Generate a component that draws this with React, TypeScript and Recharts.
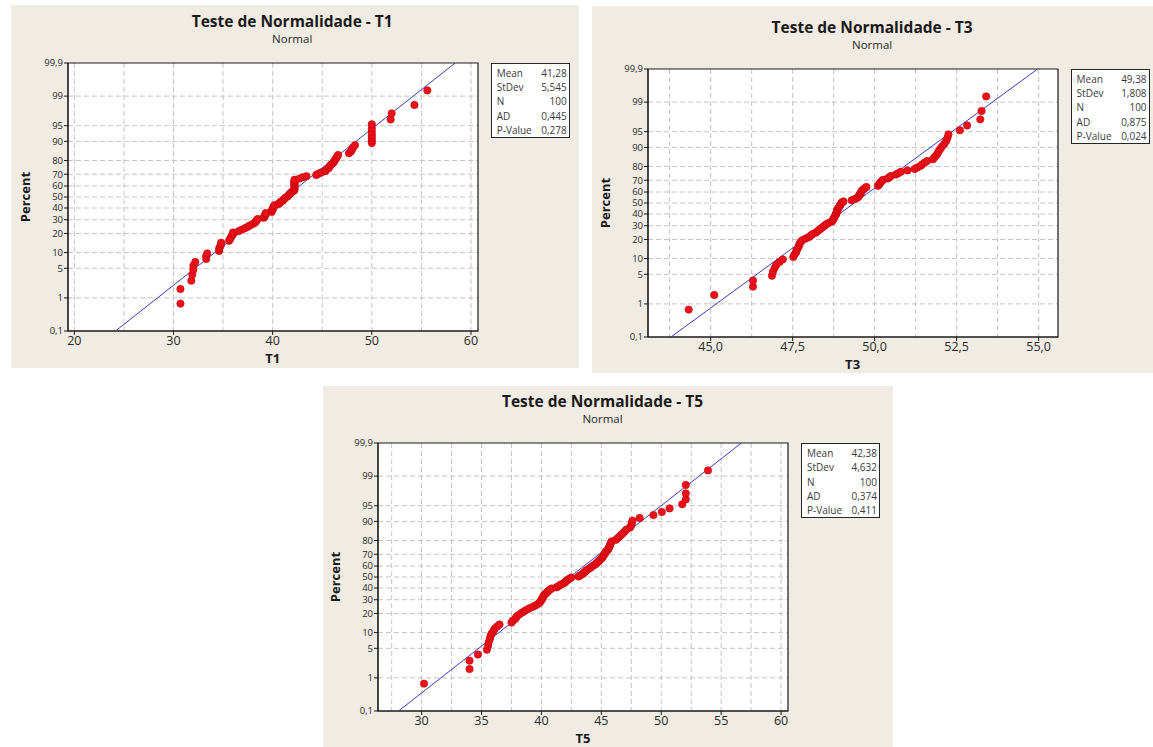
import React from 'react';
import { ScatterChart, Scatter, XAxis, YAxis, CartesianGrid, ReferenceArea } from 'recharts';

// probability axis (shared by the three plots)
const percentTicks = [0.1, 1, 5, 10, 20, 30, 40, 50, 60, 70, 80, 90, 95, 99, 99.9];
const percentLabels = ['0,1', '1', '5', '10', '20', '30', '40', '50', '60', '70', '80', '90', '95', '99', '99,9'];
const percentGrid = [1, 5, 10, 20, 30, 40, 50, 60, 70, 80, 90, 95, 99];

const statLabels = ['Mean', 'StDev', 'N', 'AD', 'P-Value'];

// T1
const t1Values = [
  30.7, 30.7, 31.8, 31.9, 32.0, 32.0, 32.2, 33.3, 33.3, 33.4,
  34.6, 34.6, 34.7, 34.8, 34.8, 35.6, 35.7, 35.8, 35.9, 36.0,
  36.0, 36.6, 36.9, 37.2, 37.5, 37.7, 38.0, 38.2, 38.3, 38.4,
  38.5, 39.1, 39.2, 39.2, 39.3, 39.3, 39.9, 39.9, 40.0, 40.0,
  40.1, 40.1, 40.2, 40.6, 40.7, 40.8, 41.0, 41.1, 41.2, 41.3,
  41.5, 41.6, 41.7, 41.8, 41.9, 42.1, 42.2, 42.2, 42.2, 42.2,
  42.2, 42.2, 42.2, 42.2, 42.2, 42.2, 42.7, 43.0, 43.4, 44.4,
  44.6, 44.9, 45.3, 45.4, 45.6, 45.7, 45.8, 45.9, 46.1, 46.2,
  46.3, 46.4, 46.5, 46.6, 47.7, 47.9, 48.0, 48.1, 48.3, 50.0,
  50.0, 50.0, 50.0, 50.0, 50.0, 50.0, 51.9, 52.0, 54.3, 55.6,
];
const t1Fit = [{ x: 24.15, p: 0.1 }, { x: 58.41, p: 99.9 }];
const t1Stats = ['41,28', '5,545', '100', '0,445', '0,278'];
const t1XTicks = [20, 30, 40, 50, 60];
const t1XLabels = ['20', '30', '40', '50', '60'];
const t1XGrid = [20, 25, 30, 35, 40, 45, 50, 55, 60];
const t1XDomain = [19.36, 60.71];

// T3
const t3Values = [
  44.33, 45.11, 46.29, 46.29, 46.87, 46.9, 46.95, 47.0, 47.1, 47.2,
  47.52, 47.55, 47.6, 47.62, 47.65, 47.68, 47.7, 47.72, 47.75, 47.8,
  47.9, 48.0, 48.05, 48.1, 48.2, 48.25, 48.3, 48.35, 48.4, 48.45,
  48.5, 48.55, 48.62, 48.7, 48.72, 48.75, 48.76, 48.78, 48.8, 48.82,
  48.83, 48.84, 48.85, 48.86, 48.88, 48.9, 48.92, 48.94, 48.96, 48.98,
  49.0, 49.05, 49.3, 49.38, 49.45, 49.5, 49.52, 49.54, 49.56, 49.58,
  49.6, 49.62, 49.66, 49.7, 49.75, 50.1, 50.14, 50.16, 50.18, 50.22,
  50.26, 50.4, 50.45, 50.5, 50.65, 50.72, 50.8, 51.0, 51.22, 51.3,
  51.4, 51.45, 51.52, 51.6, 51.78, 51.82, 51.88, 51.92, 51.95, 52.0,
  52.05, 52.12, 52.18, 52.22, 52.25, 52.6, 52.82, 53.22, 53.26, 53.4,
];
const t3Fit = [{ x: 43.79, p: 0.1 }, { x: 54.97, p: 99.9 }];
const t3Stats = ['49,38', '1,808', '100', '0,875', '0,024'];
const t3XTicks = [45, 47.5, 50, 52.5, 55];
const t3XLabels = ['45,0', '47,5', '50,0', '52,5', '55,0'];
const t3XGrid = [43.75, 45, 46.25, 47.5, 48.75, 50, 51.25, 52.5, 53.75, 55];
const t3XDomain = [43.09, 55.59];

// T5
const t5Values = [
  30.2, 34.0, 34.0, 34.7, 35.45, 35.55, 35.6, 35.7, 35.75, 35.85,
  36.0, 36.1, 36.3, 36.5, 37.5, 37.6, 37.8, 37.9, 38.0, 38.2,
  38.4, 38.6, 38.8, 39.0, 39.3, 39.5, 39.7, 39.85, 39.9, 40.0,
  40.05, 40.1, 40.15, 40.2, 40.3, 40.4, 40.5, 40.6, 40.7, 40.85,
  41.25, 41.4, 41.55, 41.7, 41.9, 42.0, 42.1, 42.2, 42.35, 42.5,
  43.1, 43.25, 43.4, 43.5, 43.6, 43.7, 43.8, 43.95, 44.1, 44.2,
  44.35, 44.5, 44.6, 44.7, 44.8, 44.9, 45.0, 45.1, 45.15, 45.2,
  45.3, 45.35, 45.4, 45.55, 45.6, 45.65, 45.7, 45.75, 45.8, 45.85,
  46.2, 46.35, 46.5, 46.65, 46.8, 46.95, 47.1, 47.4, 47.5, 47.55,
  47.6, 48.2, 49.35, 50.05, 50.7, 51.75, 52.05, 52.05, 52.05, 53.9,
];
const t5Fit = [{ x: 28.07, p: 0.1 }, { x: 56.69, p: 99.9 }];
const t5Stats = ['42,38', '4,632', '100', '0,374', '0,411'];
const t5XTicks = [30, 35, 40, 45, 50, 55, 60];
const t5XLabels = ['30', '35', '40', '45', '50', '55', '60'];
const t5XGrid = [27.5, 30, 32.5, 35, 37.5, 40, 42.5, 45, 47.5, 50, 52.5, 55, 57.5, 60];
const t5XDomain = [26.36, 60.58];

// inverse normal cdf (Acklam), used for the probability scale
function probit(p: number): number {
  const a = [-39.69683028665376, 220.9460984245205, -275.9285104469687, 138.357751867269, -30.66479806614716, 2.506628277459239];
  const b = [-54.47609879822406, 161.5858368580409, -155.6989798598866, 66.80131188771075, -13.28068155288572];
  const c = [-0.007784894002430293, -0.3223964580411365, -2.400758277161838, -2.549732539343734, 4.374664141464968, 2.938163982698783];
  const d = [0.007784695709041462, 0.3224671290700398, 2.445134137142996, 3.754408661907416];
  const lo = 0.02425;
  if (p < lo) {
    const q = Math.sqrt(-2 * Math.log(p));
    return (((((c[0] * q + c[1]) * q + c[2]) * q + c[3]) * q + c[4]) * q + c[5]) / ((((d[0] * q + d[1]) * q + d[2]) * q + d[3]) * q + 1);
  }
  if (p > 1 - lo) {
    const q = Math.sqrt(-2 * Math.log(1 - p));
    return -(((((c[0] * q + c[1]) * q + c[2]) * q + c[3]) * q + c[4]) * q + c[5]) / ((((d[0] * q + d[1]) * q + d[2]) * q + d[3]) * q + 1);
  }
  const q = p - 0.5;
  const r = q * q;
  return ((((((a[0] * r + a[1]) * r + a[2]) * r + a[3]) * r + a[4]) * r + a[5]) * q) / (((((b[0] * r + b[1]) * r + b[2]) * r + b[3]) * r + b[4]) * r + 1);
}

const zTicks = percentTicks.map((p) => probit(p / 100));
const zGrid = percentGrid.map((p) => probit(p / 100));
const zDomain = [zTicks[0], zTicks[zTicks.length - 1]];

// Minitab plots each sorted value at its median rank
const toPoints = (values: number[]) =>
  values.map((x, i) => ({ x, z: probit((i + 1 - 0.3) / (values.length + 0.4)) }));

const FONT = '"Open Sans", "DejaVu Sans", sans-serif';
const PANEL_BG = '#f0ebe3';
const PLOT_W = 410;
const PLOT_H = 268;
const Y_AXIS_W = 60;
const X_AXIS_H = 44;
const TOP = 8;
const RIGHT = 8;

type PanelDef = {
  name: string;
  values: number[];
  fit: { x: number; p: number }[];
  stats: string[];
  xTicks: number[];
  xLabels: string[];
  xGrid: number[];
  xDomain: number[];
  box: { left: number; top: number; width: number; height: number };
  plot: { left: number; top: number };
};

const panels: PanelDef[] = [
  {
    name: 'T1', values: t1Values, fit: t1Fit, stats: t1Stats, xTicks: t1XTicks, xLabels: t1XLabels,
    xGrid: t1XGrid, xDomain: t1XDomain,
    box: { left: 11, top: 5, width: 568, height: 363 }, plot: { left: 67.7, top: 63 },
  },
  {
    name: 'T3', values: t3Values, fit: t3Fit, stats: t3Stats, xTicks: t3XTicks, xLabels: t3XLabels,
    xGrid: t3XGrid, xDomain: t3XDomain,
    box: { left: 592, top: 6, width: 570, height: 367 }, plot: { left: 647.6, top: 69 },
  },
  {
    name: 'T5', values: t5Values, fit: t5Fit, stats: t5Stats, xTicks: t5XTicks, xLabels: t5XLabels,
    xGrid: t5XGrid, xDomain: t5XDomain,
    box: { left: 323, top: 386, width: 570, height: 361 }, plot: { left: 378, top: 443.3 },
  },
];

const Dot = (props: { cx?: number; cy?: number }) => (
  <circle cx={props.cx} cy={props.cy} r={3.7} fill="#e8121a" stroke="#c8000a" strokeWidth={0.6} />
);

function ProbabilityPanel({ def }: { def: PanelDef }) {
  const { box, plot } = def;
  const px = plot.left - box.left;
  const py = plot.top - box.top;
  const points = toPoints(def.values);
  const fitLine = def.fit.map((f) => ({ x: f.x, z: probit(f.p / 100) }));

  const xLabel = (v: number) => {
    const i = def.xTicks.findIndex((t) => Math.abs(t - v) < 1e-9);
    return i >= 0 ? def.xLabels[i] : '';
  };
  const yLabel = (v: number) => {
    const i = zTicks.findIndex((t) => Math.abs(t - v) < 1e-9);
    return i >= 0 ? percentLabels[i] : '';
  };

  return (
    <div
      style={{
        position: 'absolute', left: box.left, top: box.top, width: box.width, height: box.height,
        background: PANEL_BG, fontFamily: FONT, color: '#1a1a1a',
      }}
    >
      <div style={{ position: 'absolute', left: px + 224.5 - 200, top: py - 52, width: 400, textAlign: 'center', fontSize: 15.5, fontWeight: 700, lineHeight: '20px' }}>
        Teste de Normalidade - {def.name}
      </div>
      <div style={{ position: 'absolute', left: px + 224.5 - 100, top: py - 32, width: 200, textAlign: 'center', fontSize: 11.5, lineHeight: '16px', color: '#2a2a2a' }}>
        Normal
      </div>
      <div
        style={{
          position: 'absolute', left: px - 42.7 - 40, top: py + PLOT_H / 2 - 9, width: 80, height: 18,
          textAlign: 'center', fontSize: 13, fontWeight: 700, lineHeight: '18px', transform: 'rotate(-90deg)',
        }}
      >
        Percent
      </div>
      <div style={{ position: 'absolute', left: px + PLOT_W / 2 - 40, top: py + PLOT_H + 20, width: 80, textAlign: 'center', fontSize: 13, fontWeight: 700, lineHeight: '15px' }}>
        {def.name}
      </div>

      <div style={{ position: 'absolute', left: px - Y_AXIS_W, top: py - TOP }}>
        <ScatterChart
          width={Y_AXIS_W + PLOT_W + RIGHT}
          height={TOP + PLOT_H + X_AXIS_H}
          margin={{ top: TOP, right: RIGHT, bottom: 0, left: 0 }}
        >
          <CartesianGrid
            fill="#ffffff"
            stroke="#c4c4c4"
            strokeDasharray="5 3"
            verticalValues={def.xGrid}
            horizontalValues={zGrid}
          />
          <XAxis
            type="number"
            dataKey="x"
            domain={def.xDomain}
            ticks={def.xTicks}
            interval={0}
            allowDataOverflow
            tickFormatter={xLabel}
            height={X_AXIS_H}
            tickSize={4}
            tickMargin={1}
            axisLine={{ stroke: '#1a1a1a' }}
            tickLine={{ stroke: '#1a1a1a' }}
            tick={{ fill: '#2a2a2a', fontSize: 12.5, fontFamily: FONT }}
          />
          <YAxis
            type="number"
            dataKey="z"
            domain={zDomain}
            ticks={zTicks}
            interval={0}
            allowDataOverflow
            tickFormatter={yLabel}
            width={Y_AXIS_W}
            tickSize={4}
            tickMargin={1}
            axisLine={{ stroke: '#1a1a1a' }}
            tickLine={{ stroke: '#1a1a1a' }}
            tick={{ fill: '#2a2a2a', fontSize: 9.5, fontFamily: FONT }}
          />
          <Scatter
            data={fitLine}
            line={{ stroke: '#3a3ac0', strokeWidth: 1 }}
            shape={() => <g />}
            isAnimationActive={false}
          />
          <Scatter data={points} shape={<Dot />} isAnimationActive={false} />
          <ReferenceArea
            x1={def.xDomain[0]}
            x2={def.xDomain[1]}
            y1={zDomain[0]}
            y2={zDomain[1]}
            fill="none"
            stroke="#1a1a1a"
            strokeWidth={1.2}
            ifOverflow="visible"
          />
        </ScatterChart>
      </div>

      <div
        style={{
          position: 'absolute', left: px + PLOT_W + 13, top: py, width: 79, height: 75, boxSizing: 'border-box',
          background: '#ffffff', border: '1.5px solid #262626', padding: '2px 2px 0 5px', fontSize: 10, color: '#3a3a3a',
        }}
      >
        {statLabels.map((label, i) => (
          <div key={label} style={{ display: 'flex', justifyContent: 'space-between', height: 14.2, lineHeight: '14.2px' }}>
            <span>{label}</span>
            <span>{def.stats[i]}</span>
          </div>
        ))}
      </div>
    </div>
  );
}

export default function App() {
  return (
    <div style={{ position: 'absolute', left: 0, top: 0, width: 1153, height: 747, overflow: 'hidden', background: '#ffffff' }}>
      {panels.map((def) => (
        <ProbabilityPanel key={def.name} def={def} />
      ))}
    </div>
  );
}
